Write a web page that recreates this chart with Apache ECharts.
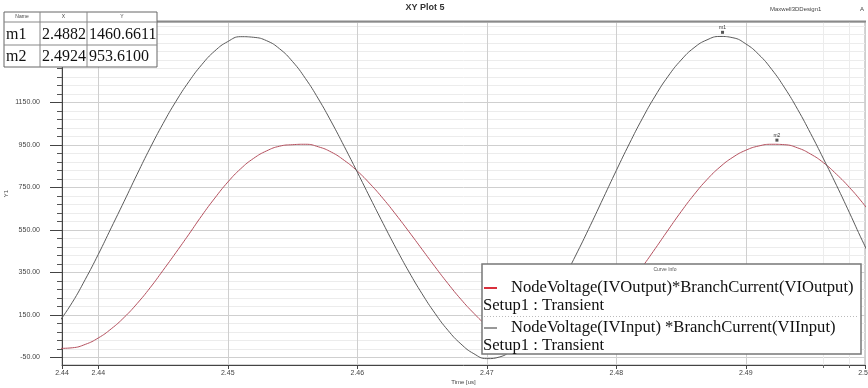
<!DOCTYPE html>
<html>
<head>
<meta charset="utf-8">
<script src="https://cdn.jsdelivr.net/npm/echarts@6/dist/echarts.min.js"></script>
<style>
  html, body { margin: 0; padding: 0; background: #fff; }
  #main { width: 868px; height: 388px; }
</style>
</head>
<body>
<div id="main"></div>
<script>
// sample times (us)
var time = [
  2.437, 2.438, 2.439, 2.440, 2.441, 2.442, 2.443, 2.444, 2.445, 2.446,
  2.447, 2.448, 2.449, 2.450, 2.451, 2.452, 2.453, 2.454, 2.455, 2.456,
  2.457, 2.458, 2.459, 2.460, 2.461, 2.462, 2.463, 2.464, 2.465, 2.466,
  2.467, 2.468, 2.469, 2.470, 2.471, 2.472, 2.473, 2.474, 2.475, 2.476,
  2.477, 2.478, 2.479, 2.480, 2.481, 2.482, 2.483, 2.484, 2.485, 2.486,
  2.487, 2.488, 2.489, 2.490, 2.491, 2.492, 2.493, 2.494, 2.495, 2.496,
  2.497, 2.498, 2.499, 2.500
];
// NodeVoltage(IVInput)*BranchCurrent(VIInput)  (black)
var inputPower = [
  120, 210, 318, 435, 560, 685, 812, 935, 1050, 1155,
  1248, 1328, 1392, 1436, 1459, 1456, 1440, 1402, 1342, 1262,
  1166, 1058, 942, 822, 700, 580, 463, 352, 250, 158,
  78, 14, -32, -55, -47, -10, 48, 126, 220, 329,
  447, 572, 701, 830, 955, 1073, 1180, 1273, 1349, 1407,
  1444, 1460, 1454, 1425, 1375, 1305, 1218, 1117, 1004, 884,
  760, 631, 499, 375
];
// NodeVoltage(IVOutput)*BranchCurrent(VIOutput)  (red)
var outputPower = [
  -7, -4, 12, 42, 85, 139, 204, 278, 360, 444,
  530, 618, 700, 775, 838, 887, 922, 944, 951, 953,
  941, 916, 877, 827, 766, 697, 621, 541, 459, 377,
  298, 224, 158, 100, 54, 20, 1, -8, 2, 19,
  52, 98, 155, 221, 294, 376, 462, 550, 636, 716,
  787, 846, 892, 925, 945, 953, 951, 936, 907, 866,
  812, 750, 679, 601
];

var xTicks = [2.44, 2.45, 2.46, 2.47, 2.48, 2.49];
var yTicks = [-50, 150, 350, 550, 750, 950, 1150];
var xMin = 2.4372, xMax = 2.4992;
var yMin = -85, yMax = 1528;

var markerNames = ['m1', 'm2'];
var markerX = [2.4882, 2.4924];
var markerY = [1460.6611, 953.6100];

var seriesNames = [
  'NodeVoltage(IVOutput)*BranchCurrent(VIOutput)',
  'NodeVoltage(IVInput) *BranchCurrent(VIInput)'
];

// minor tick positions (5 per major step)
var xMinor = [];
for (var i = 0; i < 31; i++) {
  var v = +(2.438 + i * 0.002).toFixed(4);
  if (v > xMin && v < xMax && xTicks.indexOf(+v.toFixed(2)) === -1) xMinor.push(v);
}
var yMinor = [];
for (var j = -2; j < 40; j++) {
  var w = -50 + j * 40;
  if (w > yMin && w < yMax && yTicks.indexOf(w) === -1) yMinor.push(w);
}

var pairs = function (ys) {
  return time.map(function (t, k) { return [t, ys[k]]; });
};

var myChart = echarts.init(document.getElementById('main'));
var serif = '"Liberation Serif", "DejaVu Serif", serif';
var sans = 'Arial, "Liberation Sans", sans-serif';

var graphics = [];
// marker table (top left)
var cols = [4, 40, 87, 157], rowY = [12, 22, 45, 67];
graphics.push({ type: 'rect', z: 100, shape: { x: 4, y: 12, width: 153, height: 55 },
  style: { fill: '#fff', stroke: '#666', lineWidth: 1 } });
[22, 45].forEach(function (yy) {
  graphics.push({ type: 'line', z: 101, shape: { x1: 4, y1: yy, x2: 157, y2: yy },
    style: { stroke: '#888', lineWidth: 1 } });
});
[40, 87].forEach(function (xx) {
  graphics.push({ type: 'line', z: 101, shape: { x1: xx, y1: 12, x2: xx, y2: 67 },
    style: { stroke: '#888', lineWidth: 1 } });
});
['Name', 'X', 'Y'].forEach(function (h, k) {
  graphics.push({ type: 'text', z: 102, x: (cols[k] + cols[k + 1]) / 2, y: 17,
    style: { text: h, font: '5px ' + sans, fill: '#444', textAlign: 'center', textVerticalAlign: 'middle',
      align: 'center', verticalAlign: 'middle' } });
});
markerNames.forEach(function (m, k) {
  var cy = (rowY[k + 1] + rowY[k + 2]) / 2 + 1;
  var cells = [m, markerX[k].toFixed(4), markerY[k].toFixed(4)];
  cells.forEach(function (c, n) {
    graphics.push({ type: 'text', z: 102, x: cols[n] + 2, y: cy,
      style: { text: c, font: '16px ' + serif, fill: '#111', textVerticalAlign: 'middle', verticalAlign: 'middle' } });
  });
});
// plot title and design name
graphics.push({ type: 'text', x: 425, y: 8, style: { text: 'XY Plot 5', font: 'bold 9px ' + sans, fill: '#333',
  textAlign: 'center', textVerticalAlign: 'middle', align: 'center', verticalAlign: 'middle' } });
graphics.push({ type: 'text', x: 770, y: 9, style: { text: 'Maxwell3DDesign1', font: '6px ' + sans, fill: '#444',
  textVerticalAlign: 'middle', verticalAlign: 'middle' } });
graphics.push({ type: 'text', x: 860, y: 9, style: { text: 'A', font: '6px ' + sans, fill: '#444',
  textVerticalAlign: 'middle', verticalAlign: 'middle' } });
// thicker top frame line
graphics.push({ type: 'line', z: 50, shape: { x1: 62, y1: 21.5, x2: 866, y2: 21.5 },
  style: { stroke: '#8a8a8a', lineWidth: 2 } });

// curve info box
graphics.push({ type: 'rect', z: 100, shape: { x: 482, y: 264, width: 379, height: 90 },
  style: { fill: '#fff', stroke: '#777', lineWidth: 1.5 } });
graphics.push({ type: 'text', z: 101, x: 665, y: 270, style: { text: 'Curve Info', font: '5px ' + sans, fill: '#555',
  textAlign: 'center', textVerticalAlign: 'middle', align: 'center', verticalAlign: 'middle' } });
graphics.push({ type: 'line', z: 101, shape: { x1: 484, y1: 316.5, x2: 859, y2: 316.5 },
  style: { stroke: '#bbb', lineWidth: 1, lineDash: [1, 2] } });
var entryColors = ['#d9303c', '#333'];
var entryY = [288, 328];
seriesNames.forEach(function (nm, k) {
  graphics.push({ type: 'line', z: 101, shape: { x1: 484, y1: entryY[k], x2: 497, y2: entryY[k] },
    style: { stroke: entryColors[k], lineWidth: k === 0 ? 2 : 1 } });
  graphics.push({ type: 'text', z: 101, x: 511, y: entryY[k], style: { text: nm, font: '16.6px ' + serif, fill: '#111',
    textVerticalAlign: 'middle', verticalAlign: 'middle' } });
  graphics.push({ type: 'text', z: 101, x: 483, y: entryY[k] + 17.5, style: { text: 'Setup1 : Transient', font: '16.6px ' + serif,
    fill: '#111', textVerticalAlign: 'middle', verticalAlign: 'middle' } });
});

var markPointFor = function (k) {
  return {
    symbol: 'rect', symbolSize: [3, 3], symbolOffset: [0, -4],
    itemStyle: { color: '#555' },
    label: { show: true, position: 'top', distance: 1, formatter: markerNames[k], fontSize: 5, color: '#333' },
    data: [{ coord: [markerX[k], markerY[k]] }]
  };
};

var option = {
  animation: false,
  backgroundColor: '#fff',
  grid: { left: 62, top: 22, width: 803, height: 343, show: true, borderColor: '#aaa', borderWidth: 1,
    containLabel: false, outerBoundsMode: 'none' },
  xAxis: [{
    type: 'value', min: xMin, max: xMax,
    name: 'Time [us]', nameLocation: 'middle', nameGap: 14, nameMoveOverlap: false,
    nameTextStyle: { fontSize: 6, color: '#444', fontFamily: sans },
    axisLine: { onZero: false, lineStyle: { color: '#444', width: 1 } },
    axisTick: { customValues: [xMin].concat(xTicks, [xMax]), length: 4, lineStyle: { color: '#444' } },
    axisLabel: { customValues: [xMin].concat(xTicks, [xMax]), formatter: function (v) { return v.toFixed(2); },
      fontSize: 7, color: '#444', margin: 5, fontFamily: sans, showMinLabel: true, showMaxLabel: true },
    splitLine: { show: true, lineStyle: { color: '#cfcfcf', width: 1 } }
  }, {
    type: 'value', min: xMin, max: xMax, position: 'bottom',
    axisLine: { show: false, onZero: false },
    axisTick: { customValues: xMinor, length: 3, lineStyle: { color: '#666' } },
    axisLabel: { show: false },
    splitLine: { show: true, lineStyle: { color: '#ececec', width: 1 } }
  }],
  yAxis: [{
    type: 'value', min: yMin, max: yMax,
    name: 'Y1', nameLocation: 'middle', nameGap: 53, nameRotate: 90, nameMoveOverlap: false,
    nameTextStyle: { fontSize: 6, color: '#444', fontFamily: sans },
    axisLine: { onZero: false, lineStyle: { color: '#444', width: 1 } },
    axisTick: { customValues: yTicks, length: 12, lineStyle: { color: '#444' } },
    axisLabel: { customValues: yTicks, formatter: function (v) { return v.toFixed(2); },
      fontSize: 7, color: '#444', margin: 22, fontFamily: sans },
    splitLine: { show: true, lineStyle: { color: '#cfcfcf', width: 1 } }
  }, {
    type: 'value', min: yMin, max: yMax, position: 'left',
    axisLine: { show: false, onZero: false },
    axisTick: { customValues: yMinor, length: 5, lineStyle: { color: '#555' } },
    axisLabel: { show: false },
    splitLine: { show: true, lineStyle: { color: '#ececec', width: 1 } }
  }],
  graphic: { elements: graphics },
  series: [{
    name: seriesNames[0], type: 'line', data: pairs(outputPower), smooth: true,
    showSymbol: false, symbol: 'none', xAxisIndex: 0, yAxisIndex: 0,
    lineStyle: { color: '#b4505e', width: 1 }, z: 3,
    markPoint: markPointFor(1)
  }, {
    name: seriesNames[1], type: 'line', data: pairs(inputPower), smooth: true,
    showSymbol: false, symbol: 'none', xAxisIndex: 0, yAxisIndex: 0,
    lineStyle: { color: '#5a5a5a', width: 1 }, z: 3,
    markPoint: markPointFor(0)
  }]
};
myChart.setOption(option);
</script>
</body>
</html>
